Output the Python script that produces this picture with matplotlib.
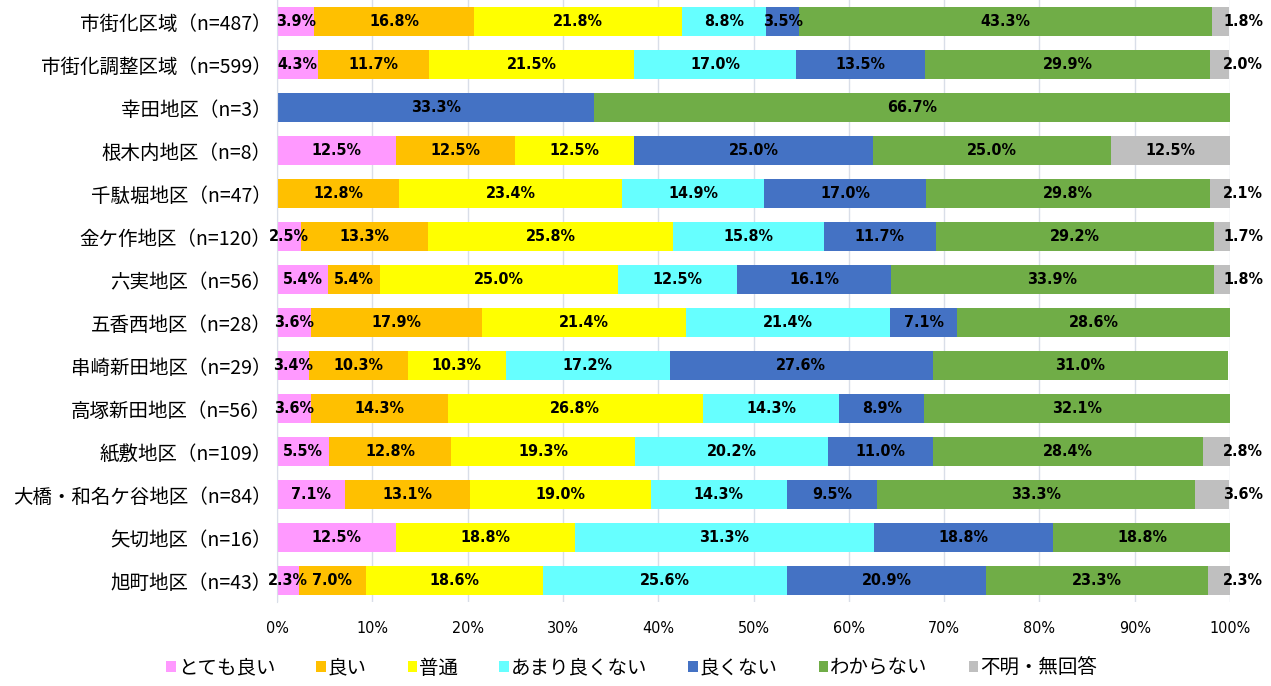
import matplotlib
matplotlib.use("Agg")
import matplotlib.pyplot as plt
import numpy as np

plt.rcParams['font.family'] = ['Noto Sans CJK JP', 'DejaVu Sans']

# データ
地区 = ["市街化区域（n=487）", "市街化調整区域（n=599）", "幸田地区（n=3）", "根木内地区（n=8）",
      "千駄堀地区（n=47）", "金ケ作地区（n=120）", "六実地区（n=56）", "五香西地区（n=28）",
      "串崎新田地区（n=29）", "高塚新田地区（n=56）", "紙敷地区（n=109）",
      "大橋・和名ケ谷地区（n=84）", "矢切地区（n=16）", "旭町地区（n=43）"]
回答 = ["とても良い", "良い", "普通", "あまり良くない", "良くない", "わからない", "不明・無回答"]

とても良い = [3.9, 4.3, 0, 12.5, 0, 2.5, 5.4, 3.6, 3.4, 3.6, 5.5, 7.1, 12.5, 2.3]
良い = [16.8, 11.7, 0, 12.5, 12.8, 13.3, 5.4, 17.9, 10.3, 14.3, 12.8, 13.1, 0, 7.0]
普通 = [21.8, 21.5, 0, 12.5, 23.4, 25.8, 25.0, 21.4, 10.3, 26.8, 19.3, 19.0, 18.8, 18.6]
あまり良くない = [8.8, 17.0, 0, 0, 14.9, 15.8, 12.5, 21.4, 17.2, 14.3, 20.2, 14.3, 31.3, 25.6]
良くない = [3.5, 13.5, 33.3, 25.0, 17.0, 11.7, 16.1, 7.1, 27.6, 8.9, 11.0, 9.5, 18.8, 20.9]
わからない = [43.3, 29.9, 66.7, 25.0, 29.8, 29.2, 33.9, 28.6, 31.0, 32.1, 28.4, 33.3, 18.8, 23.3]
不明 = [1.8, 2.0, 0, 12.5, 2.1, 1.7, 1.8, 0, 0, 0, 2.8, 3.6, 0, 2.3]

系列 = [とても良い, 良い, 普通, あまり良くない, 良くない, わからない, 不明]
色 = ["#FF99FF", "#FFC000", "#FFFF00", "#66FFFF", "#4472C4", "#70AD47", "#BFBFBF"]

fig = plt.figure(figsize=(12.71, 6.86), dpi=100)
ax = fig.add_axes([277 / 1271, 1 - 602 / 686, (1230 - 277) / 1271, 602 / 686])

y = np.arange(len(地区))
左 = np.zeros(len(地区))
ラベル書式 = dict(fontsize=11.5, fontweight="bold", family=["DejaVu Sans"],
             fontstretch="condensed", va="center", ha="center", color="black")

for k, (vals, c, name) in enumerate(zip(系列, 色, 回答)):
    vals = np.array(vals)
    ax.barh(y, vals, left=左, height=0.68, color=c, label=name, zorder=2)
    for i, v in enumerate(vals):
        if v <= 0:
            continue
        if k == 6 and v < 5:
            xpos = 101.4  # 右側の外に表示
        else:
            xpos = 左[i] + v / 2
        ax.text(xpos, y[i], f"{v:.1f}%", clip_on=False, zorder=3, **ラベル書式)
    左 += vals

ax.set_xlim(0, 100)
ax.set_ylim(len(地区) - 0.5, -0.5)
ax.set_yticks(y)
ax.set_yticklabels(地区, fontsize=14)
ax.set_xticks(np.arange(0, 101, 10))
ax.set_xticklabels([f"{t}%" for t in range(0, 101, 10)], fontsize=11.5,
                   family=["DejaVu Sans"], fontstretch="condensed")
ax.tick_params(axis="y", length=0, pad=4)
ax.tick_params(axis="x", length=0, pad=14)
ax.grid(axis="x", color="#D9DEE8", linewidth=1, zorder=0)
for s in ["top", "right", "bottom"]:
    ax.spines[s].set_visible(False)
ax.spines["left"].set_color("#D9DEE8")

fig.legend(loc="center", bbox_to_anchor=(0.497, 1 - 668 / 686), ncol=7, frameon=False,
           fontsize=14, handlelength=0.5, handleheight=0.5, handletextpad=0.1,
           columnspacing=2.1)

fig.savefig("out.png", dpi=100)
